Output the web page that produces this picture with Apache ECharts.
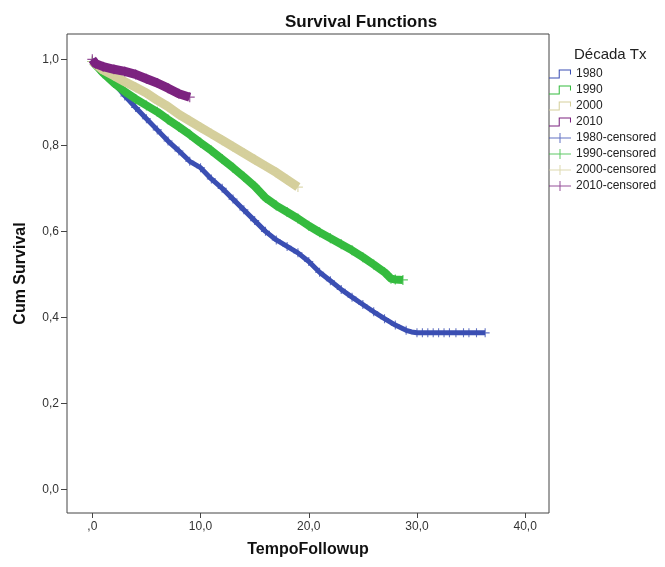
<!DOCTYPE html>
<html>
<head>
<meta charset="utf-8">
<script src="https://cdn.jsdelivr.net/npm/echarts@6/dist/echarts.min.js"></script>
<style>
  html, body { margin: 0; padding: 0; background: #fff; }
  #chart { width: 665px; height: 567px; }
</style>
</head>
<body>
<div id="chart"></div>
<script>
// ---- Data (time in years, cumulative survival) ----
const decades = ['1980', '1990', '2000', '2010'];

const surv1980 = [[0,1.0],[0.5,0.986],[1,0.972],[2,0.945],[3,0.915],[4,0.888],[5,0.862],[6,0.836],[7,0.81],[8,0.787],[9,0.763],[10,0.748],[11,0.722],[12,0.70],[13,0.675],[14,0.65],[15,0.625],[16,0.60],[17,0.58],[18,0.565],[19,0.55],[20,0.53],[21,0.505],[22,0.485],[23,0.465],[24,0.447],[25,0.43],[26,0.413],[27,0.397],[28,0.382],[29,0.37],[29.5,0.366],[30,0.364],[36.3,0.364]];
const surv1990 = [[0,0.995],[0.5,0.982],[1,0.968],[2,0.945],[3,0.925],[4,0.908],[5,0.893],[6,0.878],[7,0.86],[8,0.843],[9,0.825],[10,0.806],[11,0.788],[12,0.768],[13,0.748],[14,0.727],[15,0.705],[16,0.678],[17,0.66],[18,0.645],[19,0.63],[20,0.613],[21,0.598],[22,0.584],[23,0.57],[24,0.556],[25,0.54],[26,0.523],[27,0.505],[27.6,0.49],[28,0.488],[28.7,0.487]];
const surv2000 = [[0,0.995],[0.5,0.985],[1,0.975],[2,0.962],[3,0.948],[4,0.935],[5,0.922],[6,0.905],[7,0.89],[8,0.872],[9,0.857],[10,0.842],[11,0.827],[12,0.812],[13,0.797],[14,0.782],[15,0.767],[16,0.752],[17,0.737],[18,0.72],[19,0.703]];
const surv2010 = [[0,1.0],[0.3,0.99],[1,0.983],[2,0.977],[3,0.972],[4,0.965],[5,0.955],[6,0.945],[7,0.933],[8,0.92],[9,0.912]];

// censored observations (visible marks)
const cens1980 = [[0.5,0.986],[1,0.972],[2,0.945],[3,0.915],[4,0.888],[5,0.862],[6,0.836],[7,0.81],[8,0.787],[9,0.763],[10,0.748],[11,0.722],[12,0.70],[13,0.675],[14,0.65],[15,0.625],[16,0.60],[17,0.58],[18,0.565],[19,0.55],[20,0.53],[21,0.505],[22,0.485],[23,0.465],[24,0.447],[25,0.43],[26,0.413],[27,0.397],[28,0.382],[29,0.37],[30,0.364],[30.5,0.364],[31,0.364],[31.5,0.364],[32,0.364],[32.5,0.364],[33,0.364],[33.6,0.364],[34.3,0.364],[34.8,0.364],[35.5,0.364],[36.3,0.364]];
const cens1990 = surv1990;
const cens2000 = surv2000;
const cens2010 = surv2010;

// ---- Axis ticks ----
const xTickValues = [0, 10, 20, 30, 40];
const xTickLabels = [',0', '10,0', '20,0', '30,0', '40,0'];
const yTickValues = [0, 0.2, 0.4, 0.6, 0.8, 1.0];
const yTickLabels = ['0,0', '0,2', '0,4', '0,6', '0,8', '1,0'];

const colors = ['#3b4fb3', '#35bb3f', '#d5cf9c', '#7c2380'];
const survData = [surv1980, surv1990, surv2000, surv2010];
const censData = [cens1980, cens1990, cens2000, cens2010];
const bandWidth = [5, 8, 9, 9];
const crossSize = [9, 10, 10, 10];

const stepIcon = 'path://M0,8.5h10.5v1h-10.5z M9.5,0.5h1v9h-1z M9.5,0.5h12v1h-12z M20.5,0.5h1v5h-1z';
const plusIcon = 'path://M0,4.5h22v1h-22z M10.5,0h1v10h-1z';
const crossSym = 'path://M0,4.4H10V5.6H0Z M4.4,0H5.6V10H4.4Z';

function lookup(values, labels, v) {
  const i = values.findIndex(t => Math.abs(t - v) < 1e-9);
  return i >= 0 ? labels[i] : '';
}

const series = [];
decades.forEach((d, i) => {
  series.push({
    name: d, type: 'line', data: survData[i],
    showSymbol: false, symbol: 'none', color: colors[i],
    lineStyle: { width: bandWidth[i], color: colors[i], join: 'round', cap: 'butt' },
    z: 2 + i, silent: true, animation: false
  });
});
decades.forEach((d, i) => {
  series.push({
    name: d + '-censored', type: 'scatter', data: censData[i],
    symbol: crossSym, symbolSize: crossSize[i], color: colors[i],
    itemStyle: { color: colors[i] },
    z: 2 + i, silent: true, animation: false
  });
});

const legendData = [];
decades.forEach(d => legendData.push({ name: d, icon: stepIcon }));
decades.forEach(d => legendData.push({ name: d + '-censored', icon: plusIcon }));

const chart = echarts.init(document.getElementById('chart'), null, { renderer: 'canvas' });
chart.setOption({
  backgroundColor: '#ffffff',
  animation: false,
  textStyle: { fontFamily: 'Liberation Sans, Arial, sans-serif' },
  title: [
    { text: 'Survival Functions', left: 280, top: 9,
      textStyle: { fontSize: 17, fontWeight: 'bold', color: '#111', fontFamily: 'Liberation Sans, Arial, sans-serif' } },
    { text: 'Década Tx', left: 569, top: 42,
      textStyle: { fontSize: 15, fontWeight: 'normal', color: '#222', fontFamily: 'Liberation Sans, Arial, sans-serif' } }
  ],
  legend: {
    orient: 'vertical', left: 549, top: 68, padding: 0,
    itemWidth: 22, itemHeight: 10, itemGap: 4,
    textStyle: { fontSize: 12, color: '#222', lineHeight: 12, fontFamily: 'Liberation Sans, Arial, sans-serif' },
    data: legendData, selectedMode: false
  },
  grid: {
    left: 67, top: 34, right: 116, bottom: 54,
    show: true, borderColor: '#444', borderWidth: 1, backgroundColor: '#fff',
    containLabel: false, outerBoundsMode: 'none'
  },
  xAxis: {
    type: 'value', min: -2.34, max: 42.2,
    name: 'TempoFollowup', nameLocation: 'middle', nameGap: 29,
    nameTextStyle: { fontSize: 16, fontWeight: 'bold', color: '#111' },
    axisLine: { show: false, onZero: false },
    axisTick: { show: true, length: 5, customValues: xTickValues, lineStyle: { color: '#444' } },
    axisLabel: { customValues: xTickValues, margin: 8, fontSize: 12, color: '#333',
      formatter: v => lookup(xTickValues, xTickLabels, v) },
    splitLine: { show: false }
  },
  yAxis: {
    type: 'value', min: -0.055, max: 1.059,
    name: 'Cum Survival', nameLocation: 'middle', nameGap: 38,
    nameTextStyle: { fontSize: 16, fontWeight: 'bold', color: '#111' },
    axisLine: { show: false, onZero: false },
    axisTick: { show: true, length: 6, customValues: yTickValues, lineStyle: { color: '#444' } },
    axisLabel: { customValues: yTickValues, margin: 8, fontSize: 12, color: '#333',
      formatter: v => lookup(yTickValues, yTickLabels, v) },
    splitLine: { show: false }
  },
  series: series
});
</script>
</body>
</html>
